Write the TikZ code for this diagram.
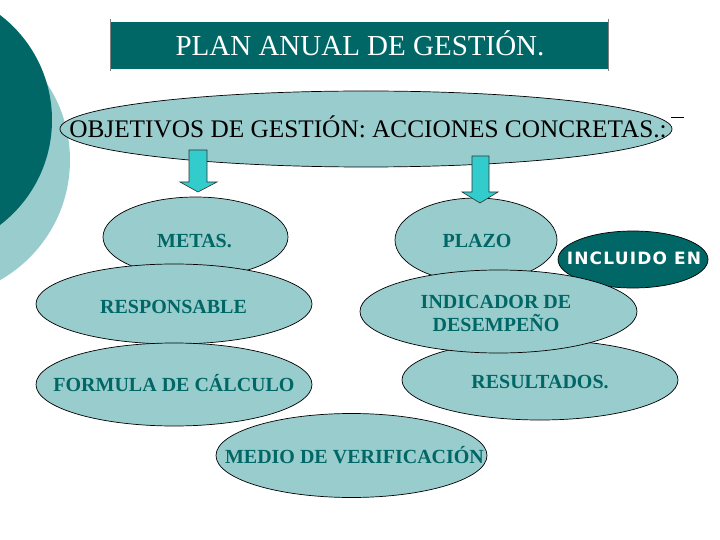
\documentclass[tikz,border=0pt]{standalone}
\usepackage{fontspec}
\setmainfont{Liberation Serif}
\newfontfamily\verdanaish[LetterSpace=7]{DejaVu Sans}
\usetikzlibrary{shapes.geometric}
\definecolor{darkteal}{HTML}{006666}
\definecolor{lightteal}{HTML}{99CCCC}
\definecolor{arrowcyan}{HTML}{33CCCC}
\tikzset{
  bubble/.style={ellipse, draw=black, line width=0.7pt, fill=lightteal, inner sep=0pt},
  darkbubble/.style={ellipse, draw=black, line width=0.7pt, fill=darkteal, inner sep=0pt},
  btext/.style={font=\fontsize{20}{22.5}\selectfont\bfseries, text=darkteal, inner sep=0pt, text height=13.2pt, text depth=0pt, align=center},
  blockarrow/.style={fill=arrowcyan, draw=black!80, line width=0.6pt, line join=miter}
}
\begin{document}
\begin{tikzpicture}[x=1pt,y=-1pt]
\useasboundingbox (0,0) rectangle (720,540);
\clip (0,0) rectangle (720,540);
\fill[white] (0,0) rectangle (720,540);
% left decorative circles
\fill[lightteal] (-68,160) circle[radius=138];
\fill[darkteal] (-80,120) circle[radius=132];
% title
\fill[darkteal] (110,22) rectangle (608,69);
\draw[gray, line width=0.8pt] (110,19) -- (110,71);
\draw[gray, line width=0.8pt] (608,19) -- (608,71);
\node[font=\fontsize{29}{32}\selectfont, text=white, inner sep=0pt, text height=19pt, text depth=0pt] (title) at (360,46) {PLAN ANUAL DE GESTIÓN.};
% objectives
\node[bubble, minimum width=612pt, minimum height=76pt] (obj) at (366,129) {};
\node[font=\fontsize{25.3}{28}\selectfont, inner sep=0pt, text height=16.7pt, text depth=0pt] (objT) at (368,129.5) {OBJETIVOS DE GESTIÓN: ACCIONES CONCRETAS.:};
\draw[black, line width=1pt] (671,118) -- (684,118);
% upper bubbles
\node[bubble, minimum width=185pt, minimum height=80pt] (metas) at (195.5,237) {};
\node[bubble, minimum width=162pt, minimum height=84pt] (plazo) at (476,240) {};
\node[darkbubble, minimum width=150pt, minimum height=57pt] (incl) at (633,259.5) {};
% block arrows
\coordinate (a1) at (198,150);
\coordinate (a2) at (480,156);
\draw[blockarrow] (189,150) -- (207,150) -- (207,182) -- (217,182) -- (198,192) -- (180,182) -- (189,182) -- cycle;
\draw[blockarrow] (472,156) -- (489,156) -- (489,192) -- (498,192) -- (480,203) -- (462,192) -- (472,192) -- cycle;
% remaining bubbles
\node[bubble, minimum width=276pt, minimum height=80pt] (resp) at (174,304) {};
\node[bubble, minimum width=276pt, minimum height=83pt] (form) at (174,384.5) {};
\node[bubble, minimum width=271pt, minimum height=84pt] (medio) at (351.5,455.5) {};
\node[bubble, minimum width=276pt, minimum height=80pt] (resu) at (540,380) {};
\node[bubble, minimum width=277pt, minimum height=83pt] (indi) at (498.5,311.5) {};
% texts
\node[btext] (metasT) at (194.5,241) {METAS.};
\node[btext] (plazoT) at (477,241) {PLAZO};
\node[font=\fontsize{17}{20}\verdanaish\bfseries, text=white, inner sep=0pt, text height=12.4pt, text depth=0pt] (inclT) at (634,258.5) {INCLUIDO EN};
\node[btext] (respT) at (173.5,306.5) {RESPONSABLE};
\node[btext] (formT) at (174,385) {FORMULA DE CÁLCULO};
\node[btext] (medioT) at (354.5,456.5) {MEDIO DE VERIFICACIÓN};
\node[btext] (resuT) at (540,381.5) {RESULTADOS.};
\node[font=\fontsize{20}{22.5}\selectfont\bfseries, text=darkteal, inner sep=0pt, align=center] (indiT) at (496,313.7) {INDICADOR DE\\DESEMPEÑO};
\end{tikzpicture}
\end{document}
